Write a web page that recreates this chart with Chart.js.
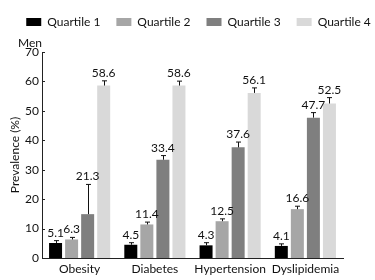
<!DOCTYPE html>
<html><head><meta charset="utf-8">
<script src="https://cdn.jsdelivr.net/npm/chart.js@4/dist/chart.umd.min.js"></script>
<style>html,body{margin:0;padding:0;background:#fff}#wrap{width:375px;height:280px;position:relative}</style>
</head><body><div id="wrap"><canvas id="c"></canvas></div>
<script>
const categories = ['Obesity', 'Diabetes', 'Hypertension', 'Dyslipidemia'];
const seriesNames = ['Quartile 1', 'Quartile 2', 'Quartile 3', 'Quartile 4'];
const quartile1 = [5.1, 4.5, 4.3, 4.1];
const quartile2 = [6.3, 11.4, 12.5, 16.6];
const quartile3 = [14.9, 33.4, 37.6, 47.7];
const quartile4 = [58.6, 58.6, 56.1, 52.5];
const quartile1Err = [0.8, 0.7, 0.9, 0.7];
const quartile2Err = [0.7, 0.8, 0.8, 1.0];
const quartile3Err = [10.1, 1.4, 1.8, 1.7];
const quartile4Err = [1.6, 1.5, 1.7, 2.0];
const quartile1Labels = ['5.1', '4.5', '4.3', '4.1'];
const quartile2Labels = ['6.3', '11.4', '12.5', '16.6'];
const quartile3Labels = ['21.3', '33.4', '37.6', '47.7'];
const quartile4Labels = ['58.6', '58.6', '56.1', '52.5'];
const yTicks = [0, 10, 20, 30, 40, 50, 60, 70];
const panelLabel = 'Men';
const yTitle = 'Prevalence (%)';

const FONT = 'Lato';
const TXT = '#111';
const colors = ['#000000', '#a6a6a6', '#7f7f7f', '#d9d9d9'];
const values = [quartile1, quartile2, quartile3, quartile4];
const errs = [quartile1Err, quartile2Err, quartile3Err, quartile4Err];
const labels = [quartile1Labels, quartile2Labels, quartile3Labels, quartile4Labels];

const legendSize = {
  id: 'legendSize',
  beforeInit(chart) {
    const fit = chart.legend.fit;
    chart.legend.fit = function () {
      const mw = this.maxWidth;
      this.maxWidth = 420;
      fit.call(this);
      this.maxWidth = mw;
      this.width = mw;
      this.height = 52;
    };
  },
  afterLayout(chart) {
    const lg = chart.legend;
    lg.left -= 30;
    lg.right += 30;
  }
};

const extras = {
  id: 'extras',
  afterDatasetsDraw(chart) {
    const ctx = chart.ctx, y = chart.scales.y, area = chart.chartArea;
    ctx.save();
    ctx.strokeStyle = '#222'; ctx.lineWidth = 1;
    yTicks.forEach(v => {
      const py = Math.round(y.getPixelForValue(v)) + 0.5;
      ctx.beginPath(); ctx.moveTo(area.left, py); ctx.lineTo(area.left + 3, py); ctx.stroke();
    });
    values.forEach((vals, i) => {
      const meta = chart.getDatasetMeta(i);
      meta.data.forEach((bar, j) => {
        const x = Math.round(bar.x) + 0.5;
        const top = y.getPixelForValue(vals[j] + errs[i][j]);
        ctx.strokeStyle = '#111';
        ctx.beginPath(); ctx.moveTo(x, bar.y); ctx.lineTo(x, top);
        ctx.moveTo(x - 2.5, top); ctx.lineTo(x + 2.5, top); ctx.stroke();
        ctx.fillStyle = TXT; ctx.font = '12px ' + FONT;
        ctx.textAlign = 'center'; ctx.textBaseline = 'alphabetic';
        ctx.fillText(labels[i][j], bar.x, top - 4);
      });
    });
    ctx.fillStyle = TXT; ctx.font = '12px ' + FONT;
    ctx.textAlign = 'left'; ctx.textBaseline = 'middle';
    ctx.fillText(panelLabel, 18, 43);
    ctx.translate(15, (area.top + area.bottom) / 2);
    ctx.rotate(-Math.PI / 2);
    ctx.textAlign = 'center';
    ctx.fillText(yTitle, 0, 0);
    ctx.restore();
  }
};

new Chart(document.getElementById('c'), {
  type: 'bar',
  data: {
    labels: categories,
    datasets: seriesNames.map((n, i) => ({
      label: n, data: values[i], backgroundColor: colors[i], borderWidth: 0,
      categoryPercentage: 0.853, barPercentage: 0.81
    }))
  },
  options: {
    responsive: true, maintainAspectRatio: false, animation: false,
    layout: { padding: { top: 0, left: 22, right: 0, bottom: 0 } },
    plugins: {
      legend: {
        position: 'top',
        labels: { boxWidth: 15, boxHeight: 8, padding: 16, color: TXT, font: { family: FONT, size: 12 } }
      },
      tooltip: { enabled: false }
    },
    scales: {
      x: {
        grid: { display: false, drawTicks: false },
        border: { display: true, color: '#222', width: 1 },
        ticks: { color: TXT, padding: 4, maxRotation: 0, minRotation: 0, autoSkip: false, font: { family: FONT, size: 12 } },
        afterFit(s) { s.height = 22; }
      },
      y: {
        min: 0, max: 70,
        grid: { display: false, drawTicks: false },
        border: { display: true, color: '#222', width: 1 },
        ticks: { stepSize: 10, color: TXT, padding: 3, font: { family: FONT, size: 12 } },
        afterBuildTicks(s) { s.ticks = yTicks.map(v => ({ value: v })); },
        afterFit(s) { s.width = 20; }
      },
      yR: {
        position: 'right', display: true,
        grid: { display: false, drawTicks: false }, border: { display: false },
        ticks: { display: false },
        afterFit(s) { s.width = 32; }
      }
    }
  },
  plugins: [legendSize, extras]
});
</script></body></html>
